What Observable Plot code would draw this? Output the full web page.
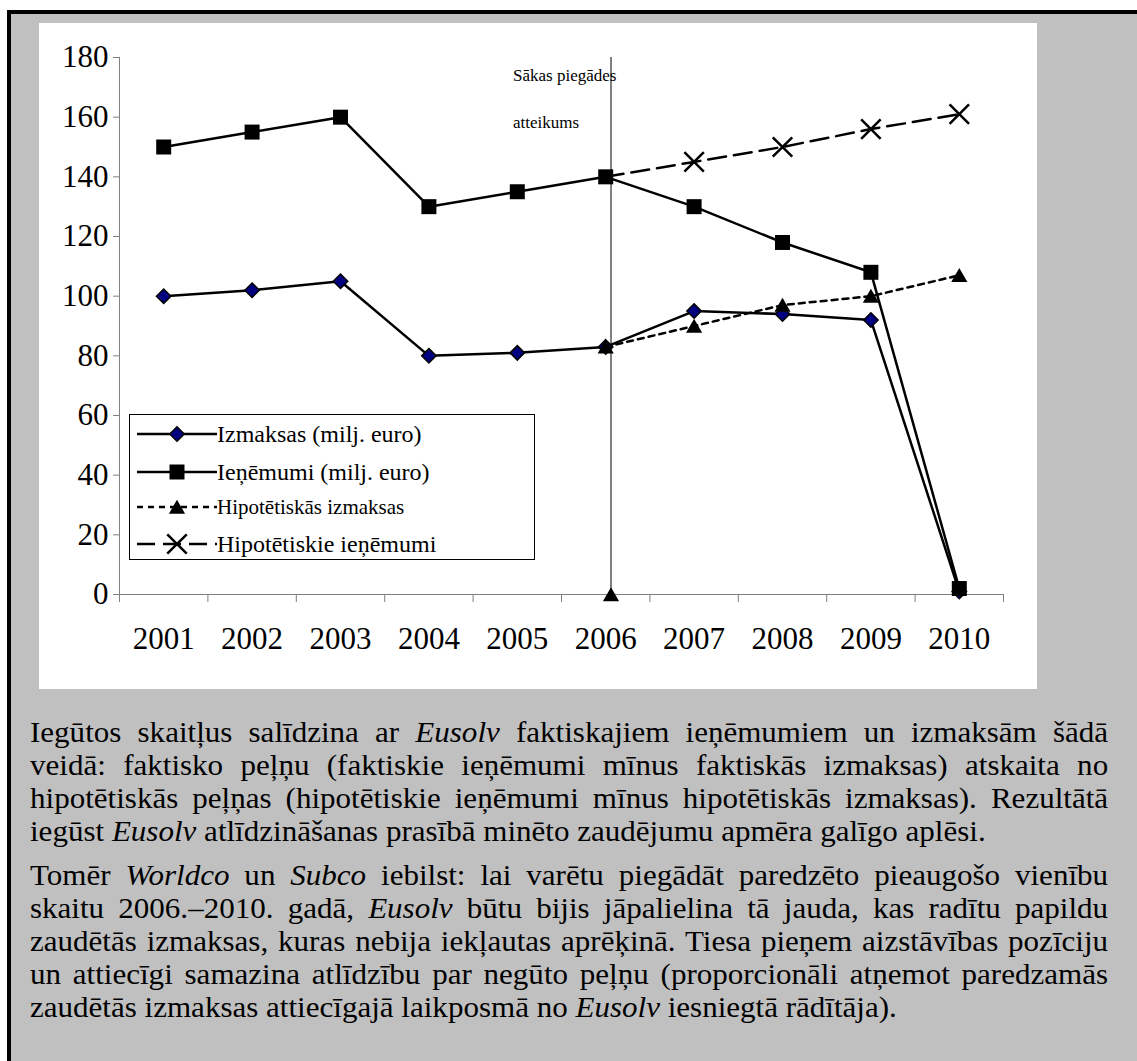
<!DOCTYPE html>
<html lang="lv">
<head>
<meta charset="utf-8">
<script src="https://cdn.jsdelivr.net/npm/d3@7"></script>
<script src="https://cdn.jsdelivr.net/npm/@observablehq/plot@0.6"></script>
<style>
  html, body { margin: 0; padding: 0; background: #fff; }
  body { position: relative; width: 1137px; height: 1061px; overflow: hidden;
         font-family: "Liberation Serif", Tinos, "DejaVu Serif", serif; color: #000; }
  #frame { position: absolute; left: 7px; top: 10px; width: 1130px; height: 1051px;
           box-sizing: border-box; border-left: 4px solid #000; border-top: 4px solid #000;
           background: #c0c0c0; }
  #panel { position: absolute; left: 39px; top: 23px; width: 998px; height: 666px; background: #fff; }
  #legend { position: absolute; left: 129px; top: 414px; width: 406px; height: 146px;
            box-sizing: border-box; border: 1px solid #000; background: #fff; }
  .lrow { position: absolute; left: 7px; height: 30px; display: flex; align-items: center; }
  .lrow svg { display: block; }
  .lrow span { white-space: nowrap; line-height: 30px; }
  #text { position: absolute; left: 30px; top: 716px; width: 1007.5px; font-size: 29px; line-height: 33px;
          transform: scaleX(1.07); transform-origin: 0 0; }
  #text p { margin: 0 0 11px 0; text-align: justify; }
</style>
</head>
<body>
<div id="frame"></div>
<div id="panel"></div>
<div id="legend"></div>
<div id="text"></div>
<script>
// ---- data ----
const years = [2001, 2002, 2003, 2004, 2005, 2006, 2007, 2008, 2009, 2010];
const costs = [100, 102, 105, 80, 81, 83, 95, 94, 92, 1];
const revenue = [150, 155, 160, 130, 135, 140, 130, 118, 108, 2];
const hypoYears = [2006, 2007, 2008, 2009, 2010];
const hypoCosts = [83, 90, 97, 100, 107];
const hypoRevenue = [140, 145, 150, 156, 161];
const refusalX = [2006.06];
const refusalY = [0, 180];
const yTicks = [0, 20, 40, 60, 80, 100, 120, 140, 160, 180];
const annotationLines = ["Sākas piegādes", "atteikums"];
const seriesNames = ["Izmaksas (milj. euro)", "Ieņēmumi (milj. euro)", "Hipotētiskās izmaksas", "Hipotētiskie ieņēmumi"];
// body text: [text, italic]
const paragraph1 = [
  ["Iegūtos skaitļus salīdzina ar ", false], ["Eusolv", true],
  [" faktiskajiem ieņēmumiem un izmaksām šādā veidā: faktisko peļņu (faktiskie ieņēmumi mīnus faktiskās izmaksas) atskaita no hipotētiskās peļņas (hipotētiskie ieņēmumi mīnus hipotētiskās izmaksas). Rezultātā iegūst ", false],
  ["Eusolv", true], [" atlīdzināšanas prasībā minēto zaudējumu apmēra galīgo aplēsi.", false]
];
const paragraph2 = [
  ["Tomēr ", false], ["Worldco", true], [" un ", false], ["Subco", true],
  [" iebilst: lai varētu piegādāt paredzēto pieaugošo vienību skaitu 2006.–2010. gadā, ", false],
  ["Eusolv", true],
  [" būtu bijis jāpalielina tā jauda, kas radītu papildu zaudētās izmaksas, kuras nebija iekļautas aprēķinā. Tiesa pieņem aizstāvības pozīciju un attiecīgi samazina atlīdzību par negūto peļņu (proporcionāli atņemot paredzamās zaudētās izmaksas attiecīgajā laikposmā no ", false],
  ["Eusolv", true], [" iesniegtā rādītāja).", false]
];

// ---- body text (one span per word) ----
const textBox = d3.select("#text");
[paragraph1, paragraph2].forEach(par => {
  const p = textBox.append("p").node();
  par.forEach(([txt, it]) => {
    txt.split(/( )/).forEach(tok => {
      if (tok === "") return;
      if (tok === " ") { p.appendChild(document.createTextNode(" ")); return; }
      const el = document.createElement(it ? "i" : "span");
      el.textContent = tok;
      p.appendChild(el);
    });
  });
});

const xBounds = years.map(y => y - 0.5).concat([years[years.length - 1] + 0.5]);
const costData = years.map((year, i) => ({year, value: costs[i]}));
const revData = years.map((year, i) => ({year, value: revenue[i]}));
const hcData = hypoYears.map((year, i) => ({year, value: hypoCosts[i]}));
const hrData = hypoYears.map((year, i) => ({year, value: hypoRevenue[i]}));
const refusalData = [{year: refusalX[0], value: refusalY[0]}];

const FONT = "'Liberation Serif', Tinos, 'DejaVu Serif', serif";
const AX = "#808080";
const LW = 2.5;
const DOT = "6,5";
const DASH = "18,8";
const NAVY = "#000080";

const chart = Plot.plot({
  width: 998, height: 666,
  marginLeft: 80, marginRight: 34, marginTop: 34, marginBottom: 95,
  x: {domain: [xBounds[0], xBounds[xBounds.length - 1]]},
  y: {domain: [refusalY[0], refusalY[1]]},
  style: {fontFamily: FONT, background: "white", color: "black", overflow: "visible"},
  marks: [
    Plot.axisY({ticks: yTicks, tickSize: 6, tickPadding: 5, fontSize: 31, stroke: AX, label: null, tickFormat: d => String(d)}),
    Plot.axisX({ticks: xBounds, tickSize: 8, tickFormat: () => "", stroke: AX, label: null}),
    Plot.axisX({ticks: years, tickSize: 0, tickPadding: 32, fontSize: 31, tickFormat: d => String(d), label: null}),
    Plot.ruleX([xBounds[0]], {stroke: AX}),
    Plot.ruleY([refusalY[0]], {stroke: AX}),
    Plot.ruleX(refusalX, {y1: refusalY[0], y2: refusalY[1], stroke: "black", strokeWidth: 1}),
    Plot.text([annotationLines[0]], {x: () => refusalX[0], frameAnchor: "top", textAnchor: "start", lineAnchor: "bottom", dx: -98, dy: 23, fontSize: 17, fill: "black"}),
    Plot.text([annotationLines[1]], {x: () => refusalX[0], frameAnchor: "top", textAnchor: "start", lineAnchor: "bottom", dx: -98, dy: 70, fontSize: 17, fill: "black"}),
    // costs
    Plot.line(costData, {x: "year", y: "value", stroke: "black", strokeWidth: LW}),
    Plot.dot(costData, {x: "year", y: "value", symbol: "diamond2", r: 6.5, fill: NAVY, stroke: "black", strokeWidth: 1.5}),
    // revenue
    Plot.line(revData, {x: "year", y: "value", stroke: "black", strokeWidth: LW}),
    Plot.dot(revData, {x: "year", y: "value", symbol: "square", r: 8.46, fill: "black", stroke: "none"}),
    // hypothetical costs
    Plot.line(hcData, {x: "year", y: "value", stroke: "black", strokeWidth: LW, strokeDasharray: DOT}),
    Plot.dot(hcData, {x: "year", y: "value", symbol: "triangle", r: 6, dy: 2, fill: "black", stroke: "none"}),
    Plot.dot(refusalData, {x: "year", y: "value", symbol: "triangle", r: 6, dy: 2, fill: "black", stroke: "none"}),
    // hypothetical revenue
    Plot.line(hrData, {x: "year", y: "value", stroke: "black", strokeWidth: LW, strokeDasharray: DASH}),
    Plot.dot(hrData.slice(1), {x: "year", y: "value", symbol: "times", r: 8.9, fill: "none", stroke: "black", strokeWidth: 2.5})
  ]
});
document.getElementById("panel").appendChild(chart);

// ---- legend ----
const legend = d3.select("#legend");
const rows = [
  {name: seriesNames[0], dash: null, sym: d3.symbolDiamond2, size: Math.PI * 6.5 * 6.5, fill: NAVY, stroke: "black", sw: 1.5, fs: 24, cy: 19},
  {name: seriesNames[1], dash: null, sym: d3.symbolSquare, size: Math.PI * 8.46 * 8.46, fill: "black", stroke: "none", sw: 0, fs: 24, cy: 57},
  {name: seriesNames[2], dash: DOT, sym: d3.symbolTriangle, size: Math.PI * 36, fill: "black", stroke: "none", sw: 0, fs: 21, cy: 92, dy: 2},
  {name: seriesNames[3], dash: DASH, sym: d3.symbolTimes, size: Math.PI * 8.9 * 8.9, fill: "none", stroke: "black", sw: 2.5, fs: 24, cy: 129}
];
rows.forEach(r => {
  const row = legend.append("div").attr("class", "lrow").style("top", (r.cy - 15) + "px");
  const svg = row.append("svg").attr("width", 80).attr("height", 30);
  svg.append("line").attr("x1", 0).attr("x2", 80).attr("y1", 15).attr("y2", 15)
    .attr("stroke", "black").attr("stroke-width", LW)
    .attr("stroke-dasharray", r.dash);
  svg.append("path").attr("d", d3.symbol(r.sym, r.size)())
    .attr("transform", `translate(40,${15 + (r.dy || 0)})`)
    .attr("fill", r.fill).attr("stroke", r.stroke).attr("stroke-width", r.sw);
  row.append("span").style("font-size", r.fs + "px").text(r.name);
});
</script>
</body>
</html>
